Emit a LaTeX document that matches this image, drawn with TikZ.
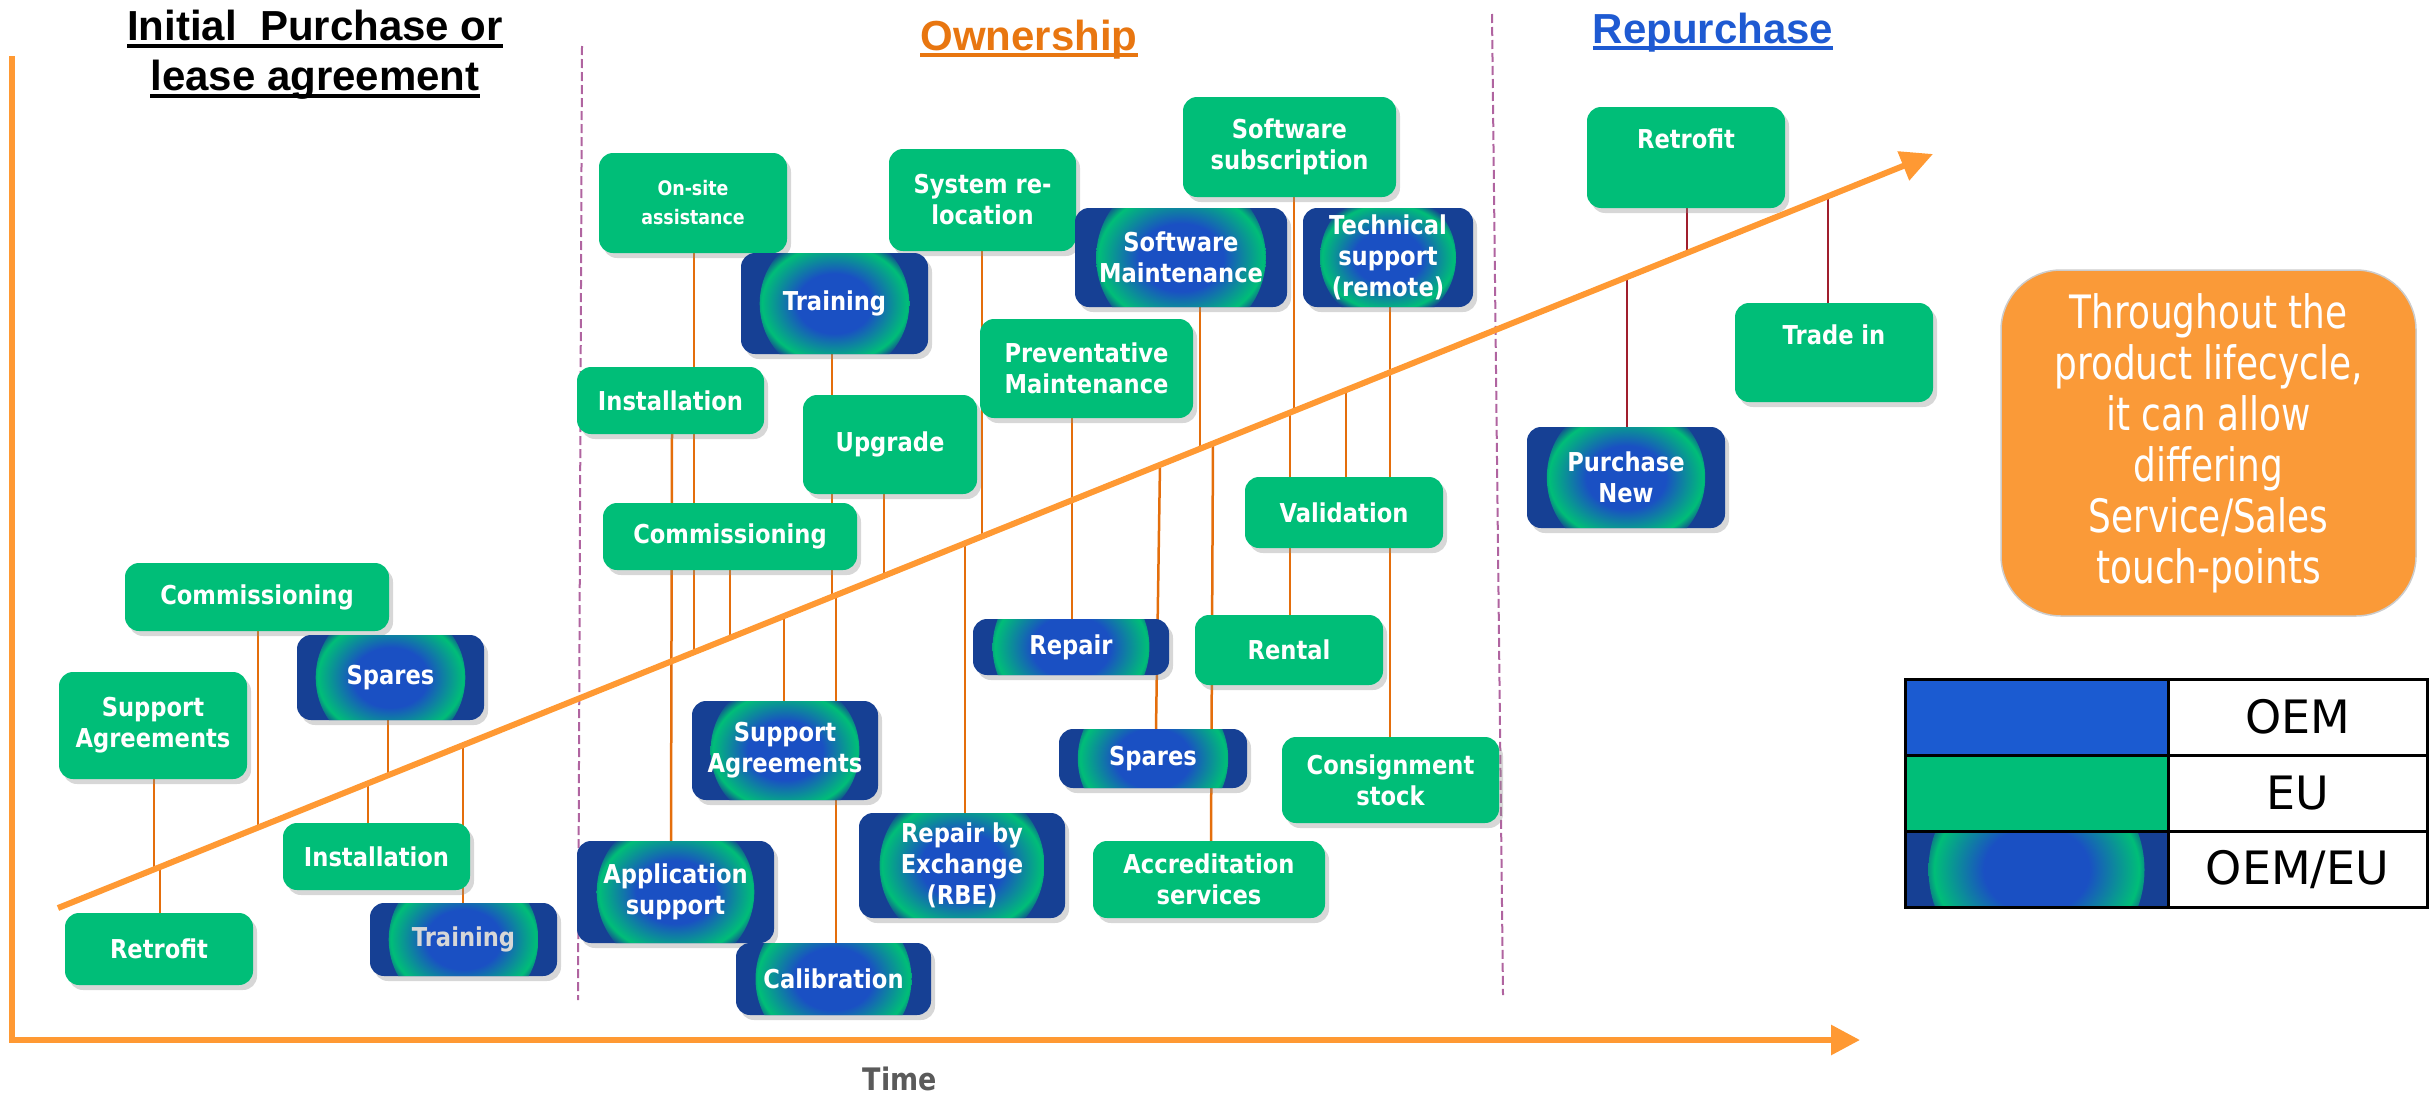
\documentclass[tikz,border=0pt]{standalone}
\usepackage{fontspec}
\setmainfont{DejaVu Sans}
\newfontfamily\lblfont[FakeStretch=0.87]{DejaVu Sans}
\newfontfamily\orfont[FakeStretch=0.78]{DejaVu Sans}
\newfontfamily\titlefont{Liberation Sans}
\usetikzlibrary{arrows.meta,shadows,calc,backgrounds}
\definecolor{cgreen}{RGB}{0,190,120}
\definecolor{cdark}{RGB}{22,64,148}
\definecolor{cmid}{RGB}{26,80,195}
\definecolor{cblue}{RGB}{27,91,209}
\definecolor{caxis}{RGB}{255,153,51}
\definecolor{cconn}{RGB}{228,110,12}
\definecolor{cred}{RGB}{160,30,45}
\definecolor{cdash}{RGB}{176,100,160}
\definecolor{cown}{RGB}{232,118,16}
\definecolor{crep}{RGB}{30,90,210}
\definecolor{cbox}{RGB}{250,154,56}
\definecolor{ctime}{RGB}{90,90,90}
\definecolor{cgraytxt}{RGB}{215,215,215}
\pgfdeclareradialshading{ringshade}{\pgfpointorigin}{color(0bp)=(cmid); color(10bp)=(cmid); color(19.5bp)=(cgreen); color(22.5bp)=(cdark); color(50bp)=(cdark)}
\newcommand\myul[1]{\setbox0=\hbox{#1}\leavevmode\rlap{\copy0}\raisebox{-7pt}[0pt][0pt]{\rule{\wd0}{4pt}}}
\newcommand\dg[2]{\coordinate (#1) at ($(dstart)!{(#2-58)/1875}!(dend)$);}
\tikzset{
 box/.style={rounded corners=14pt, inner sep=0pt, align=center, text=white,
   font=\lblfont\bfseries\fontsize{26}{31}\selectfont,
   drop shadow={shadow xshift=4pt, shadow yshift=-5pt, fill=black!45, opacity=0.35}},
 gbox/.style 2 args={box, fill=cgreen, minimum width=#1pt, minimum height=#2pt},
 mbox/.style 2 args={box, fill=cdark, minimum width=#1pt, minimum height=#2pt,
   path picture={\shade[shading=ringshade] (path picture bounding box.center) circle[radius={0.4*#1pt}];}},
 conn/.style={draw=cconn, line width=2.5pt},
 rconn/.style={draw=cred, line width=2pt},
 sepline/.style={draw=cdash, line width=2pt, dash pattern=on 9pt off 4pt},
 axisline/.style={draw=caxis, line width=6pt, line join=miter},
 ttl/.style={font=\titlefont\bfseries\fontsize{42}{50}\selectfont, inner sep=0pt, align=center},
 legcell/.style={draw=black, line width=3pt, minimum width=263pt, minimum height=76.33pt, inner sep=0pt},
 legtext/.style={draw=black, line width=3pt, minimum width=259pt, minimum height=76.33pt, inner sep=0pt, font=\fontsize{46}{50}\selectfont},
}
\begin{document}
\begin{tikzpicture}[x=1pt,y=-1pt]
\useasboundingbox (0,0) rectangle (2430,1095);
% coordinates
\coordinate (axtop) at (12,56);
\coordinate (axorig) at (12,1040);
\coordinate (axend) at (1860,1040);
\coordinate (dstart) at (58,908);
\coordinate (dend) at (1933,154);
\coordinate (s1a) at (582,46);
\coordinate (s1b) at (578,1000);
\coordinate (s2a) at (1492,14);
\coordinate (s2b) at (1503,995);
% titles
\node[ttl, anchor=north] (t1) at (315,10) {\myul{Initial~ Purchase or}\\\myul{lease agreement}};
\node[ttl, text=cown, anchor=base] (t2) at (1029,50) {\myul{Ownership}};
\node[ttl, text=crep, anchor=base] (t3) at (1713,43) {\myul{Repurchase}};
\node[font=\lblfont\bfseries\fontsize{31}{31}\selectfont, text=ctime, anchor=base, inner sep=0pt] (time) at (900,1090) {Time};
% left section
\node[gbox={264}{68}] (lcomm) at (257,597) {Commissioning};
\node[gbox={188}{107}] (lsa) at (153,725.5) {Support\\Agreements};
\node[mbox={187}{85}] (lspares) at (390.5,677.5) {Spares};
\node[gbox={187}{67}] (linst) at (376.5,856.5) {Installation};
\node[gbox={188}{72}] (lretro) at (159,949) {Retrofit};
\node[mbox={187}{73}, text=cgraytxt] (ltrain) at (463.5,939.5) {Training};
% ownership
\node[gbox={188}{100}, font=\lblfont\bfseries\fontsize{20}{29}\selectfont] (onsite) at (693,203) {On-site\\assistance};
\node[gbox={187}{102}] (sysreloc) at (982.5,200) {System re-\\location};
\node[mbox={187}{101}] (otrain) at (834.5,303.5) {Training};
\node[gbox={187}{67}] (oinst) at (670.5,400.5) {Installation};
\node[gbox={174}{99}] (upgrade) at (890,444.5) {Upgrade};
\node[gbox={213}{99}] (pm) at (1086.5,368.5) {Preventative\\Maintenance};
\node[gbox={254}{67}] (ocomm) at (730,536.5) {Commissioning};
\node[gbox={213}{100}] (swsub) at (1289.5,147) {Software\\subscription};
\node[mbox={212}{99}] (swmaint) at (1181,257.5) {Software\\Maintenance};
\node[mbox={170}{99}] (techsup) at (1388,257.5) {Technical\\support\\(remote)};
\node[gbox={198}{71}] (valid) at (1344,512.5) {Validation};
\node[mbox={186}{99}] (osa) at (785,750.5) {Support\\Agreements};
\node[mbox={206}{105}] (rbe) at (962,865.5) {Repair by\\Exchange\\(RBE)};
\node[mbox={197}{102}] (appsup) at (675.5,892) {Application\\support};
\node[mbox={195}{72}] (calib) at (833.5,979) {Calibration};
\node[mbox={196}{56}] (repair) at (1071,647) {Repair};
\node[gbox={188}{70}] (rental) at (1289,650) {Rental};
\node[mbox={188}{59}] (ospares) at (1153,758.5) {Spares};
\node[gbox={217}{86}] (consign) at (1390.5,780) {Consignment\\stock};
\node[gbox={232}{77}] (accred) at (1209,879.5) {Accreditation\\services};
% repurchase
\node[gbox={198}{101}, text height=41pt, text depth=60pt] (rretro) at (1686,157.5) {Retrofit};
\node[gbox={198}{99}, text height=41pt, text depth=58pt] (tradein) at (1834,352.5) {Trade in};
\node[mbox={198}{101}] (purnew) at (1626,477.5) {Purchase\\New};
% note box
\node[rounded corners=60pt, fill=cbox, draw=black!20, line width=1.5pt, minimum width=415pt, minimum height=346pt, inner sep=0pt, align=center, text=white, font=\orfont\fontsize{46}{51}\selectfont] (note) at (2208.5,443) {Throughout the\\product lifecycle,\\it can allow\\differing\\Service/Sales\\touch-points};
% legend
\node[legcell, fill=cblue] (lc1) at (2036.5,717.2) {};
\node[legtext] (lt1) at (2297.5,717.2) {OEM};
\node[legcell, fill=cgreen] (lc2) at (2036.5,793.5) {};
\node[legtext] (lt2) at (2297.5,793.5) {EU};
\node[legcell, fill=cdark, path picture={\shade[shading=ringshade] (path picture bounding box.center) circle[radius=108pt];}] (lc3) at (2036.5,869.8) {};
\node[legtext] (lt3) at (2297.5,869.8) {OEM/EU};
\begin{pgfonlayer}{background}
\draw[sepline] (s1a) -- (s1b);
\draw[sepline] (s2a) -- (s2b);
% left connectors
\dg{c1}{154} \draw[conn] (c1 |- lsa.south) -- (c1);
\dg{c2}{160} \draw[conn] (c2) -- (c2 |- lretro.north);
\dg{c3}{258} \draw[conn] (c3 |- lcomm.south) -- (c3);
\dg{c4}{388} \draw[conn] (c4 |- lspares.south) -- (c4);
\dg{c5}{368} \draw[conn] (c5) -- (c5 |- linst.north);
\dg{c6}{463} \draw[conn] (c6) -- (c6 |- ltrain.north);
% ownership connectors
\dg{c7}{694} \draw[conn] (c7 |- onsite.south) -- (c7);
\draw[conn] ([xshift=1.5pt]oinst.south) -- ([xshift=-4.5pt]appsup.north);
\dg{c9}{730} \draw[conn] (c9 |- ocomm.south) -- (c9);
\dg{c10}{832} \draw[conn] (c10 |- otrain.south) -- (c10);
\dg{c11}{884} \draw[conn] (c11 |- upgrade.south) -- (c11);
\dg{c12}{784} \draw[conn] (c12) -- (c12 |- osa.north);
\dg{c13}{836} \draw[conn] (c13) -- (c13 |- calib.north);
\dg{c14}{982} \draw[conn] (c14 |- sysreloc.south) -- (c14);
\dg{c15}{965} \draw[conn] (c15) -- (c15 |- rbe.north);
\draw[conn] ([xshift=-14.5pt]pm.south) -- ([xshift=1pt]repair.north);
\dg{c17}{1160} \draw[conn] (c17) -- ([xshift=3pt]ospares.north);
\dg{c18}{1200} \draw[conn] (c18 |- swmaint.south) -- (c18);
\dg{c19}{1213} \draw[conn] (c19) -- ([xshift=2pt]accred.north);
\dg{c20}{1294} \draw[conn] (c20 |- swsub.south) -- (c20);
\dg{c21}{1290} \draw[conn] (c21) -- (c21 |- rental.north);
\dg{c22}{1346} \draw[conn] (c22) -- (c22 |- valid.north);
\draw[conn] ([xshift=2pt]techsup.south) -- ([xshift=-0.5pt]consign.north);
% repurchase connectors
\dg{c24}{1687} \draw[rconn] (c24 |- rretro.south) -- (c24);
\dg{c25}{1828} \draw[rconn] (c25) -- (c25 |- tradein.north);
\dg{c26}{1627} \draw[rconn] (c26) -- (c26 |- purnew.north);
% axes
\draw[axisline, -{Triangle[length=29pt,width=29pt]}] (axtop) -- (axorig) -- (axend);
\draw[axisline, -{Triangle[length=32pt,width=30pt]}] (dstart) -- (dend);
\end{pgfonlayer}
\end{tikzpicture}
\end{document}
